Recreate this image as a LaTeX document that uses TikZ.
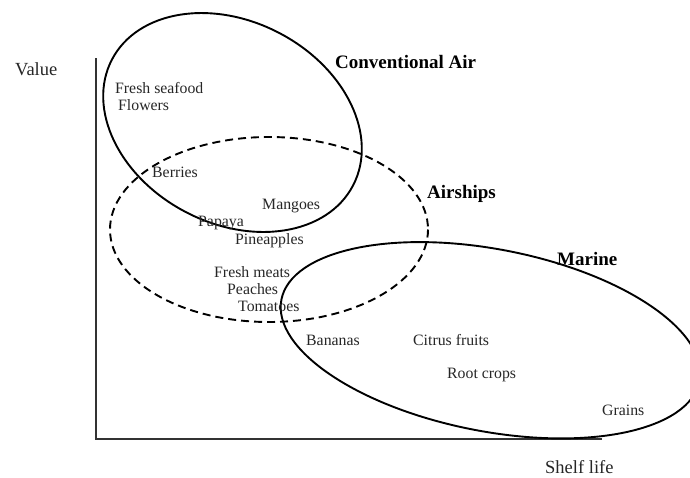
\documentclass[tikz,border=0pt]{standalone}
\usepackage{fontspec}
\setmainfont{Liberation Serif}
\begin{document}
\begin{tikzpicture}[x=1pt,y=-1pt,
  lbl/.style={anchor=base west,inner sep=0pt,text=black!85,font=\fontsize{15.8}{18}\selectfont},
  grp/.style={anchor=base west,inner sep=0pt,text=black,font=\fontsize{19}{22}\selectfont\bfseries},
  axlbl/.style={anchor=base west,inner sep=0pt,text=black!85,font=\fontsize{18.5}{21}\selectfont},
  axisline/.style={draw=black!80,line width=2.4pt},
  region/.style={draw=black,line width=1.9pt},
  dregion/.style={draw=black,line width=1.9pt,dash pattern=on 8pt off 5pt}]
\useasboundingbox (0,0) rectangle (690,477);
% axes
\coordinate (ytop) at (96,58);
\coordinate (origin) at (96,439);
\coordinate (xend) at (602,439);
\draw[axisline,line join=miter] (ytop) -- (origin) -- (xend);
% regions
\draw[region,rotate around={-27.6:(232.5,122.5)}] (232.5,122.5) ellipse [x radius=136, y radius=101];
\draw[dregion] (269,229.5) ellipse [x radius=159, y radius=92.5];
\draw[region,rotate around={-11:(490.5,340.25)}] (490.5,340.25) ellipse [x radius=213, y radius=91];
% axis labels
\node[axlbl] (value) at (15,75) {Value};
\node[axlbl] (shelf) at (545,473) {Shelf life};
% group labels
\node[grp] (conv) at (335,68) {Conventional Air};
\node[grp] (air) at (427,198) {Airships};
\node[grp] (marine) at (557,265) {Marine};
% items
\node[lbl] (seafood) at (115,93) {Fresh seafood};
\node[lbl] (flowers) at (118,110) {Flowers};
\node[lbl] (berries) at (152,177) {Berries};
\node[lbl] (mangoes) at (262,209.5) {Mangoes};
\node[lbl] (papaya) at (198,226.5) {Papaya};
\node[lbl] (pine) at (235,244) {Pineapples};
\node[lbl] (meats) at (214,277) {Fresh meats};
\node[lbl] (peaches) at (227,294) {Peaches};
\node[lbl] (tomatoes) at (238,311) {Tomatoes};
\node[lbl] (bananas) at (306,345) {Bananas};
\node[lbl] (citrus) at (413,345) {Citrus fruits};
\node[lbl] (root) at (447,378) {Root crops};
\node[lbl] (grains) at (602,415) {Grains};
\end{tikzpicture}
\end{document}
